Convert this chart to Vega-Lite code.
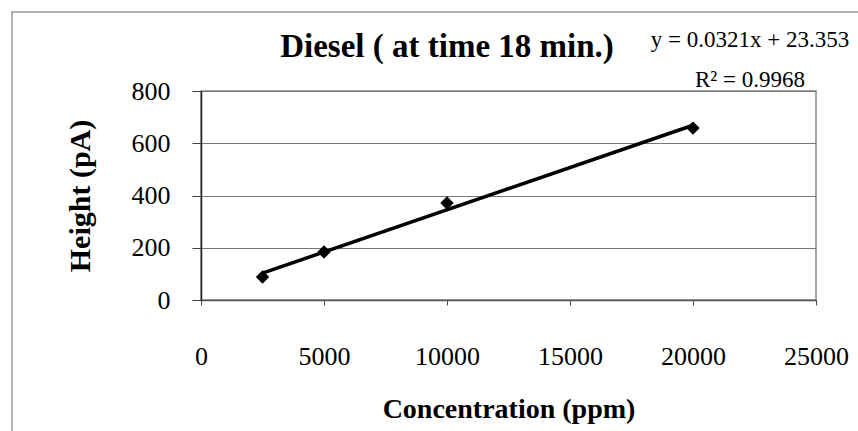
{
  "$schema": "https://vega.github.io/schema/vega-lite/v6.json",
  "width": 615,
  "height": 209,
  "autosize": "none",
  "padding": {"left": 201, "top": 91, "right": 42, "bottom": 131},
  "background": "white",
  "config": {
    "font": "Liberation Serif",
    "view": {"stroke": "#8a8a8a", "strokeWidth": 1.5}
  },
  "data": {
    "values": [
      {"conc": 2500, "height": 88},
      {"conc": 5000, "height": 184},
      {"conc": 10000, "height": 371},
      {"conc": 20000, "height": 658}
    ]
  },
  "layer": [
    {
      "data": {"values": [{"frame": "chart area"}]},
      "mark": {"type": "rect", "fill": null, "stroke": "#9a9a9a", "strokeWidth": 1.5},
      "encoding": {
        "x": {"datum": -7683, "type": "quantitative"},
        "x2": {"datum": 30000},
        "y": {"datum": 1102, "type": "quantitative"},
        "y2": {"datum": -600}
      }
    },
    {
      "transform": [{"regression": "height", "on": "conc"}],
      "mark": {"type": "line", "color": "black", "strokeWidth": 3.5},
      "encoding": {
        "x": {
          "field": "conc",
          "type": "quantitative",
          "scale": {"domain": [0, 25000], "nice": false, "zero": true},
          "axis": {
            "title": "Concentration (ppm)",
            "titleFont": "Liberation Serif",
            "titleFontSize": 28,
            "titleFontWeight": "bold",
            "titleColor": "black",
            "titlePadding": 26,
            "values": [0, 5000, 10000, 15000, 20000, 25000],
            "format": "d",
            "labelFont": "Liberation Serif",
            "labelFontSize": 26,
            "labelColor": "black",
            "labelPadding": 38,
            "labelFlush": false,
            "tickSize": 5,
            "tickColor": "#444",
            "domainColor": "#555",
            "domainWidth": 1.5,
            "grid": false
          }
        },
        "y": {
          "field": "height",
          "type": "quantitative",
          "scale": {"domain": [0, 800], "nice": false},
          "axis": {
            "title": "Height (pA)",
            "titleFont": "Liberation Serif",
            "titleFontSize": 30,
            "titleFontWeight": "bold",
            "titleColor": "black",
            "titlePadding": 36,
            "values": [0, 200, 400, 600, 800],
            "format": "d",
            "labelFont": "Liberation Serif",
            "labelFontSize": 26,
            "labelColor": "black",
            "labelPadding": 22,
            "tickSize": 9,
            "tickColor": "#444",
            "domainColor": "#222",
            "domainWidth": 1.5,
            "grid": true,
            "gridColor": "#777",
            "gridWidth": 1.2
          }
        }
      }
    },
    {
      "mark": {"type": "point", "shape": "diamond", "filled": true, "color": "black", "opacity": 1, "size": 180},
      "encoding": {
        "x": {"field": "conc", "type": "quantitative"},
        "y": {"field": "height", "type": "quantitative"}
      }
    },
    {
      "data": {"values": [{"label": "Diesel ( at time 18 min.)"}]},
      "mark": {
        "type": "text",
        "font": "Liberation Serif",
        "fontSize": 33,
        "fontWeight": "bold",
        "color": "black",
        "align": "center",
        "baseline": "alphabetic"
      },
      "encoding": {
        "text": {"field": "label"},
        "x": {"datum": 10000, "type": "quantitative"},
        "y": {"datum": 930, "type": "quantitative"}
      }
    },
    {
      "data": {"values": [{"label": "trendline equation"}]},
      "mark": {
        "type": "text",
        "text": ["y = 0.0321x + 23.353", "R² = 0.9968"],
        "font": "Liberation Serif",
        "fontSize": 23,
        "color": "black",
        "align": "center",
        "baseline": "alphabetic",
        "lineHeight": 40
      },
      "encoding": {
        "x": {"datum": 22317, "type": "quantitative"},
        "y": {"datum": 968, "type": "quantitative"}
      }
    }
  ]
}
